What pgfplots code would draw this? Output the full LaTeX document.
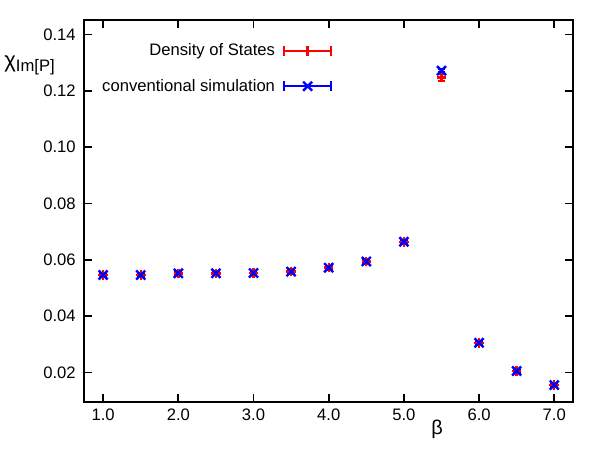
\documentclass[border=0pt]{standalone}
\usepackage{fontspec}
\setmainfont{Liberation Sans}
\usepackage{pgfplots}
\pgfplotsset{compat=1.18}
\begin{document}
\begin{tikzpicture}[x=0.75pt,y=0.75pt]
\begin{axis}[
  at={(0,0)}, anchor=south west,
  scale only axis,
  width=367.5pt, height=287.25pt,
  xmin=0.75, xmax=7.25, ymin=0.0095, ymax=0.1452,
  xtick={1,2,3,4,5,6,7},
  ytick={0.02,0.04,0.06,0.08,0.10,0.12,0.14},
  xticklabel style={/pgf/number format/fixed, /pgf/number format/fixed zerofill, /pgf/number format/precision=1, yshift=-2pt},
  yticklabel style={/pgf/number format/fixed, /pgf/number format/fixed zerofill, /pgf/number format/precision=2, xshift=-3pt},
  scaled y ticks=false,
  /pgf/number format/assume math mode=true,
  tick label style={font=\fontsize{12.5pt}{12.5pt}\selectfont},
  tick align=inside,
  major tick length=6pt,
  axis line style={line width=1.3pt},
  every tick/.style={line width=1.3pt, black},
  xlabel={\fontsize{15pt}{15pt}\selectfont β},
  xlabel style={at={(axis description cs:0.722,-0.072)}, anchor=center},
  ylabel={{\fontsize{16.5pt}{16.5pt}\selectfont χ}\raisebox{-3pt}{\fontsize{12.5pt}{12.5pt}\selectfont Im[P]}},
  ylabel style={at={(axis description cs:-0.112,0.882)}, anchor=center, rotate=-90},
  legend plot pos=right,
  legend cell align=right,
  legend style={at={(axis description cs:0.508,0.945)}, anchor=north east, draw=none, fill=none,
    font=\fontsize{12.5pt}{12.5pt}\selectfont, row sep=12pt, column sep=4pt, inner sep=0pt},
  legend image code/.code={
    \draw[#1,mark=none] (0cm,0cm) -- (1.24cm,0cm);
    \draw[#1,mark=none] (0cm,-3.6pt) -- (0cm,3.6pt);
    \draw[#1,mark=none] (1.24cm,-3.6pt) -- (1.24cm,3.6pt);
    \draw[#1] plot coordinates {(0.62cm,0cm)};
  },
]
\addplot[red, line width=1.8pt, only marks, mark=+, mark size=3.6pt,
  error bars/.cd, y dir=both, y explicit, error mark options={rotate=90, mark size=3pt, line width=1.8pt, red}]
  table[x=x, y=y, y error=e] {
x y e
1.0 0.0546 0.0007
1.5 0.0546 0.0007
2.0 0.0552 0.0007
2.5 0.0552 0.0007
3.0 0.0553 0.0007
3.5 0.0558 0.0007
4.0 0.0572 0.0007
4.5 0.0594 0.0007
5.0 0.0664 0.0007
5.5 0.1248 0.0012
6.0 0.0305 0.0007
6.5 0.0205 0.0007
7.0 0.0155 0.0007
};
\addlegendentry{Density of States}
\addplot[blue, line width=1.8pt, only marks, mark=x, mark size=4.8pt,
  error bars/.cd, y dir=both, y explicit, error mark options={rotate=90, mark size=3pt, line width=1.8pt, blue}]
  table[x=x, y=y, y error=e] {
x y e
1.0 0.0546 0.0004
1.5 0.0546 0.0004
2.0 0.0552 0.0004
2.5 0.0552 0.0004
3.0 0.0553 0.0004
3.5 0.0558 0.0004
4.0 0.0572 0.0004
4.5 0.0594 0.0004
5.0 0.0664 0.0004
5.5 0.1272 0.0005
6.0 0.0305 0.0004
6.5 0.0205 0.0004
7.0 0.0155 0.0004
};
\addlegendentry{conventional simulation}
\end{axis}
\path (-83,-47) rectangle (517,403);
\end{tikzpicture}
\end{document}
